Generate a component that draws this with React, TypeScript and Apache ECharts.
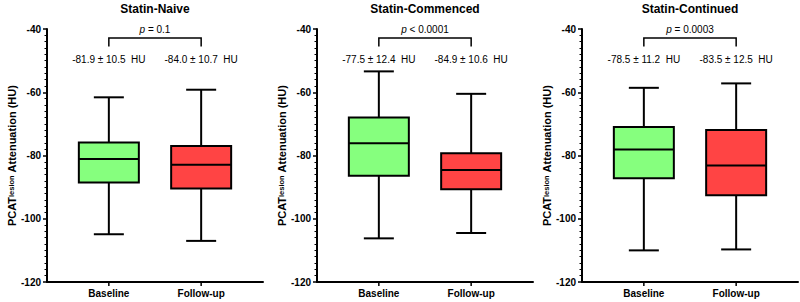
import React, { useEffect, useRef } from "react";
import * as echarts from "echarts";

const categories = ["Baseline", "Follow-up"];
const panelTitles = ["Statin-Naive", "Statin-Commenced", "Statin-Continued"];
const pTexts = ["= 0.1", "< 0.0001", "= 0.0003"];
// [min, Q1, median, Q3, max]
const baselineStats = [
  [-104.9, -88.5, -81.1, -75.9, -61.6],
  [-106.2, -86.4, -76.1, -68.0, -53.4],
  [-110.0, -87.2, -78.1, -71.0, -58.6],
];
const followupStats = [
  [-107.0, -90.4, -82.9, -77.0, -59.2],
  [-104.5, -90.7, -84.6, -79.3, -60.5],
  [-109.7, -92.6, -83.2, -71.9, -57.2],
];
const meanSdBaseline = ["-81.9 ± 10.5  HU", "-77.5 ± 12.4  HU", "-78.5 ± 11.2  HU"];
const meanSdFollowup = ["-84.0 ± 10.7  HU", "-84.9 ± 10.6  HU", "-83.5 ± 12.5  HU"];
const yMin = -120;
const yMax = -40;
const yInterval = 20;

const boxColors = ["#86FF7E", "#FF4444"];
const FONT = "'Liberation Sans', Arial, sans-serif";
const gridLefts = [47, 317, 582];
const gridWidth = 216;
const gridTop = 29;
const gridHeight = 253;
const xMin = -0.67;
const xMax = 1.67;
const BOX_W = 0.65;

export default function App() {
  const ref = useRef<HTMLDivElement>(null);
  useEffect(() => {
    document.body.style.margin = "0";
    const chart = echarts.init(ref.current!, null, { renderer: "svg" });

    const grids = gridLefts.map((l) => ({ left: l, width: gridWidth, top: gridTop, height: gridHeight }));
    const xAxes = gridLefts.map((_, i) => ({
      type: "value",
      gridIndex: i,
      min: xMin,
      max: xMax,
      splitLine: { show: false },
      axisLine: { show: true, onZero: false, lineStyle: { color: "#000", width: 2 } },
      axisTick: { show: false },
      axisLabel: {
        customValues: [0, 1],
        formatter: (v: number) => categories[Math.round(v)] ?? "",
        color: "#000",
        fontWeight: "bold",
        fontSize: 10,
        fontFamily: FONT,
        margin: 6,
      },
    }));
    const yAxes = gridLefts.map((_, i) => ({
      type: "value",
      gridIndex: i,
      min: yMin,
      max: yMax,
      interval: yInterval,
      name: "{a|PCAT}{b|lesion}{a| Attenuation (HU)}",
      nameLocation: "middle",
      nameGap: 30,
      nameTextStyle: {
        rich: {
          a: { fontSize: 11, fontWeight: "bold", fontFamily: FONT, color: "#000" },
          b: { fontSize: 7.5, fontWeight: "bold", fontFamily: FONT, color: "#000" },
        },
      },
      splitLine: { show: false },
      axisLine: { show: true, onZero: false, lineStyle: { color: "#000", width: 2 } },
      axisTick: { show: true, length: 4, lineStyle: { color: "#000", width: 1.5 } },
      minorTick: { show: true, splitNumber: 10, length: 2.5, lineStyle: { color: "#000", width: 1 } },
      axisLabel: { color: "#000", fontWeight: "bold", fontSize: 10, fontFamily: FONT, margin: 6 },
    }));

    const boxSeries = gridLefts.map((_, i) => ({
      type: "custom",
      xAxisIndex: i,
      yAxisIndex: i,
      encode: { x: 0, y: [1, 2, 3, 4, 5] },
      data: [
        [0, ...baselineStats[i]],
        [1, ...followupStats[i]],
      ],
      renderItem: (params: any, api: any) => {
        const x = api.value(0);
        const pMin = api.coord([x, api.value(1)]);
        const pQ1 = api.coord([x, api.value(2)]);
        const pMed = api.coord([x, api.value(3)]);
        const pQ3 = api.coord([x, api.value(4)]);
        const pMax = api.coord([x, api.value(5)]);
        const pAxis = api.coord([x, yMin]);
        const cx = pMin[0];
        const halfW = api.size([BOX_W, 0])[0] / 2;
        const capHalf = halfW / 2;
        const st = { stroke: "#000", lineWidth: 2 };
        return {
          type: "group",
          children: [
            // category tick below the x axis
            { type: "line", shape: { x1: cx, y1: pAxis[1], x2: cx, y2: pAxis[1] + 4 }, style: { stroke: "#000", lineWidth: 1.5 } },
            { type: "line", shape: { x1: cx, y1: pMax[1], x2: cx, y2: pQ3[1] }, style: st },
            { type: "line", shape: { x1: cx, y1: pQ1[1], x2: cx, y2: pMin[1] }, style: st },
            { type: "line", shape: { x1: cx - capHalf, y1: pMax[1], x2: cx + capHalf, y2: pMax[1] }, style: st },
            { type: "line", shape: { x1: cx - capHalf, y1: pMin[1], x2: cx + capHalf, y2: pMin[1] }, style: st },
            {
              type: "rect",
              shape: { x: cx - halfW, y: pQ3[1], width: 2 * halfW, height: pQ1[1] - pQ3[1] },
              style: { fill: boxColors[params.dataIndex], stroke: "#000", lineWidth: 2 },
            },
            { type: "line", shape: { x1: cx - halfW, y1: pMed[1], x2: cx + halfW, y2: pMed[1] }, style: st },
          ],
        };
      },
    }));

    const annotSeries = gridLefts.map((_, i) => ({
      type: "custom",
      xAxisIndex: i,
      yAxisIndex: i,
      encode: { x: 0, y: 1 },
      silent: true,
      data: [[0, yMax]],
      renderItem: (_p: any, api: any) => {
        const bracketY = -42.85;
        const legY = -45.5;
        const pY = -40.1;
        const meanY = -49.7;
        const a0 = api.coord([0, bracketY]);
        const a1 = api.coord([1, bracketY]);
        const l0 = api.coord([0, legY]);
        const pPos = api.coord([0.5, pY]);
        const m0 = api.coord([0, meanY]);
        const m1 = api.coord([1, meanY]);
        const st = { stroke: "#000", lineWidth: 1.5 };
        const txt = { fontSize: 10, fontFamily: FONT, fill: "#000", align: "center", verticalAlign: "middle" };
        return {
          type: "group",
          children: [
            { type: "polyline", shape: { points: [[a0[0], l0[1]], [a0[0], a0[1]], [a1[0], a1[1]], [a1[0], l0[1]]] }, style: { ...st, fill: null } },
            {
              type: "text",
              style: {
                ...txt,
                x: pPos[0],
                y: pPos[1],
                text: "{i|p} " + pTexts[i],
                rich: { i: { fontStyle: "italic", fontSize: 10, fontFamily: FONT, fill: "#000" } },
              },
            },
            { type: "text", style: { ...txt, x: m0[0], y: m0[1], text: meanSdBaseline[i] } },
            { type: "text", style: { ...txt, x: m1[0], y: m1[1], text: meanSdFollowup[i] } },
          ],
        };
      },
    }));

    chart.setOption({
      animation: false,
      backgroundColor: "#fff",
      title: panelTitles.map((t, i) => ({
        text: t,
        left: gridLefts[i] + gridWidth / 2,
        top: 3,
        padding: 0,
        textAlign: "center",
        textStyle: { fontSize: 12, fontWeight: "bold", fontFamily: FONT, color: "#000" },
      })),
      grid: grids,
      xAxis: xAxes,
      yAxis: yAxes,
      series: [...boxSeries, ...annotSeries],
    });
    return () => chart.dispose();
  }, []);
  return <div ref={ref} style={{ width: 800, height: 302, position: "absolute", left: 0, top: 0 }} />;
}
